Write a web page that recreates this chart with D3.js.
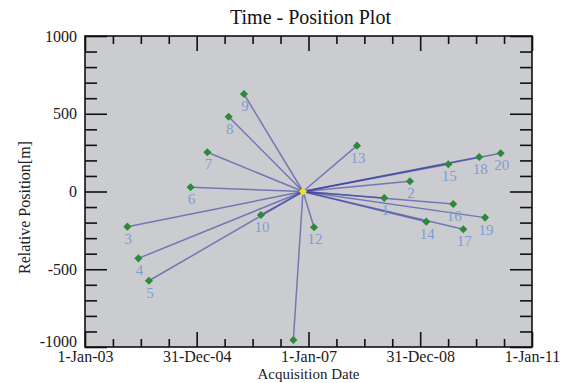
<!DOCTYPE html>
<html>
<head>
<meta charset="utf-8">
<script src="https://cdn.jsdelivr.net/npm/d3@7"></script>
<style>
  body { margin: 0; background: #fff; }
  svg { display: block; }
  text { font-family: "Liberation Serif", "DejaVu Serif", serif; }
</style>
</head>
<body>
<svg id="chart" width="565" height="383"></svg>
<script>
// acquisitions, master image first
const ids = [1, 2, 3, 4, 5, 6, 7, 8, 9, 10, 11, 12, 13, 14, 15, 16, 17, 18, 19, 20];
const dates = [
  '2008-05-10', '2008-10-25', '2003-10-05', '2003-12-16', '2004-02-23',
  '2004-11-21', '2005-03-11', '2005-07-28', '2005-11-05', '2006-02-24',
  '2006-09-24', '2007-02-06', '2007-11-14', '2009-02-09', '2009-07-03',
  '2009-08-04', '2009-10-09', '2010-01-21', '2010-02-28', '2010-06-10'
];
const positions = [
  -42, 66, -226, -430, -574, 27, 252, 481, 627, -151,
  -955, -230, 295, -194, 175, -80, -243, 222, -168, 246
];
const masterDate = '2006-11-26';
const masterPos = 0;

const xDomain = ['2003-01-01', '2011-01-01'];
const xTickDates = ['2003-01-01', '2004-12-31', '2007-01-01', '2008-12-31', '2011-01-01'];
const yTicks = [-1000, -500, 0, 500, 1000];

const parse = d3.utcParse('%Y-%m-%d');
const fmt = d3.utcFormat('%-d-%b-%y');

const margin = { left: 85, right: 33, top: 36, bottom: 36 };
const W = 565, H = 383;
const x0 = margin.left, x1 = W - margin.right;
const y0 = margin.top, y1 = H - margin.bottom;

const svg = d3.select('#chart');

const x = d3.scaleUtc().domain(xDomain.map(parse)).range([x0, x1]);
const y = d3.scaleLinear().domain([-1000, 1000]).range([y1, y0]);

// plot background
svg.append('rect')
  .attr('x', x0).attr('y', y0)
  .attr('width', x1 - x0).attr('height', y1 - y0)
  .attr('fill', '#cbcccf');

svg.append('defs').append('clipPath').attr('id', 'clip')
  .append('rect')
  .attr('x', x0).attr('y', y0)
  .attr('width', x1 - x0).attr('height', y1 - y0);

// minor ticks: 4 per major interval
const majorX = xTickDates.map(parse);
const minorX = [];
for (let i = 0; i < majorX.length - 1; i++) {
  for (let k = 1; k < 4; k++) {
    minorX.push(new Date(+majorX[i] + (majorX[i + 1] - majorX[i]) * k / 4));
  }
}
const minorY = d3.range(-900, 1000, 100).filter((v) => v % 500 !== 0);

function styleAxis(g) {
  g.attr('font-family', '"Liberation Serif", serif').attr('font-size', 16);
  g.select('.domain').remove();
  g.selectAll('line').attr('stroke', '#111').attr('stroke-width', 1.6);
  g.selectAll('text').attr('fill', '#1a1a1a');
}

// x axes
svg.append('g').attr('transform', `translate(0,${y1})`)
  .call(d3.axisBottom(x).tickValues(majorX).tickFormat(fmt).tickSize(-15).tickPadding(4))
  .call(styleAxis);
svg.append('g').attr('transform', `translate(0,${y1})`)
  .call(d3.axisBottom(x).tickValues(minorX).tickFormat('').tickSize(-8))
  .call(styleAxis);
svg.append('g').attr('transform', `translate(0,${y0})`)
  .call(d3.axisTop(x).tickValues(majorX).tickFormat('').tickSize(-15))
  .call(styleAxis);
svg.append('g').attr('transform', `translate(0,${y0})`)
  .call(d3.axisTop(x).tickValues(minorX).tickFormat('').tickSize(-8))
  .call(styleAxis);

// y axes
const yAxisG = svg.append('g').attr('transform', `translate(${x0},0)`)
  .call(d3.axisLeft(y).tickValues(yTicks).tickFormat((d) => String(d)).tickSize(-22).tickPadding(8))
  .call(styleAxis);
// the bottom label sits just above the date labels
yAxisG.selectAll('.tick text').filter((d) => d === -1000).attr('dy', '-0.05em');

svg.append('g').attr('transform', `translate(${x0},0)`)
  .call(d3.axisLeft(y).tickValues(minorY).tickFormat('').tickSize(-12))
  .call(styleAxis);
svg.append('g').attr('transform', `translate(${x1},0)`)
  .call(d3.axisRight(y).tickValues(yTicks).tickFormat('').tickSize(-22))
  .call(styleAxis);
svg.append('g').attr('transform', `translate(${x1},0)`)
  .call(d3.axisRight(y).tickValues(minorY).tickFormat('').tickSize(-12))
  .call(styleAxis);

// frame
svg.append('rect')
  .attr('x', x0).attr('y', y0)
  .attr('width', x1 - x0).attr('height', y1 - y0)
  .attr('fill', 'none').attr('stroke', '#111').attr('stroke-width', 1.6);

const points = ids.map((id, i) => ({ id, date: parse(dates[i]), pos: positions[i] }));
const master = { date: parse(masterDate), pos: masterPos };

const plot = svg.append('g').attr('clip-path', 'url(#clip)');

plot.append('g').selectAll('line')
  .data(points)
  .join('line')
  .attr('x1', x(master.date)).attr('y1', y(master.pos))
  .attr('x2', (d) => x(d.date)).attr('y2', (d) => y(d.pos))
  .attr('stroke', '#3d42a3')
  .attr('stroke-opacity', 0.62)
  .attr('stroke-width', 1.5);

const diamond = d3.symbol().type(d3.symbolDiamond2).size(42);

plot.append('g').selectAll('path')
  .data(points)
  .join('path')
  .attr('d', diamond)
  .attr('transform', (d) => `translate(${x(d.date)},${y(d.pos)})`)
  .attr('fill', '#2b8a3a');

plot.append('path')
  .attr('d', diamond)
  .attr('transform', `translate(${x(master.date)},${y(master.pos)})`)
  .attr('fill', '#f2e21c');

// labels that would fall below the frame are not drawn (as in the original)
plot.append('g').selectAll('text')
  .data(points.filter((d) => y(d.pos) + 17 < y1))
  .join('text')
  .attr('x', (d) => x(d.date) + 1)
  .attr('y', (d) => y(d.pos) + 17)
  .attr('text-anchor', 'middle')
  .attr('fill', '#7f9dd2')
  .style('font-size', '15px')
  .text((d) => d.id);

// titles
svg.append('text')
  .attr('x', (x0 + x1) / 2 + 2).attr('y', 24)
  .attr('text-anchor', 'middle')
  .attr('fill', '#111')
  .style('font-size', '20px')
  .text('Time - Position Plot');

svg.append('text')
  .attr('x', (x0 + x1) / 2).attr('y', 379)
  .attr('text-anchor', 'middle')
  .attr('fill', '#222')
  .style('font-size', '15px')
  .text('Acquisition Date');

svg.append('text')
  .attr('transform', `translate(30,${(y0 + y1) / 2 + 16}) rotate(-90)`)
  .attr('text-anchor', 'middle')
  .attr('fill', '#222')
  .style('font-size', '16px')
  .text('Relative Position[m]');
</script>
</body>
</html>
